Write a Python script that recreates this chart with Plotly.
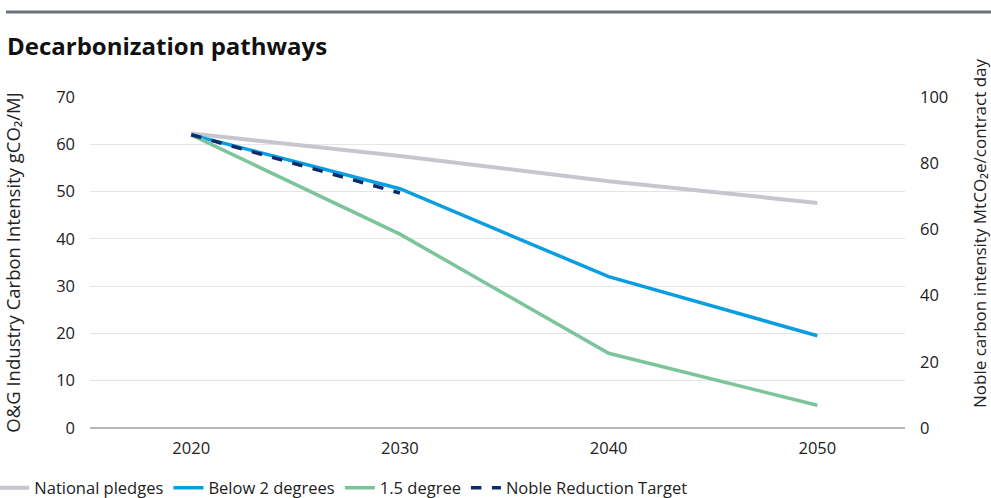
import plotly.graph_objects as go

years = [2020, 2030, 2040, 2050]
national_pledges = [62.3, 57.5, 52.2, 47.6]
below_2_degrees = [62.0, 50.6, 32.0, 19.5]
one_point_five = [62.0, 41.0, 15.8, 4.8]
noble_years = [2020, 2030]
noble_target = [88.6, 71.0]  # right axis

FONT = "Open Sans"
FS = 16.5
fig = go.Figure()
fig.add_trace(go.Scatter(x=years, y=national_pledges, name="National pledges", mode="lines",
                         line=dict(color="#c5c7cd", width=4)))
fig.add_trace(go.Scatter(x=years, y=below_2_degrees, name="Below 2 degrees", mode="lines",
                         line=dict(color="#0a9ee0", width=3.5)))
fig.add_trace(go.Scatter(x=years, y=one_point_five, name="1.5 degree", mode="lines",
                         line=dict(color="#7cc49b", width=3.5)))
fig.add_trace(go.Scatter(x=noble_years, y=noble_target, name="Noble Reduction Target", mode="lines",
                         yaxis="y2", line=dict(color="#0b2d6b", width=3.5, dash="dash")))

L, R, T, B = 90, 86, 97, 70
W, H = 991, 498
pw, ph = W - L - R, H - T - B

fig.update_layout(
    width=W, height=H,
    margin=dict(l=L, r=R, t=T, b=B, autoexpand=False),
    paper_bgcolor="white", plot_bgcolor="white",
    font=dict(family=FONT, size=FS, color="#222"),
    showlegend=True,
    legend=dict(orientation="h", x=-L / pw - 0.007, xanchor="left", y=-(488 - (H - B)) / ph, yanchor="middle",
                font=dict(size=FS, color="#222"), tracegroupgap=0),
    xaxis=dict(range=[2015.15, 2054.2], tickvals=years, showgrid=False, zeroline=False,
               showline=False, ticks="", tickfont=dict(size=FS, color="#222"), automargin=False,
               ticklabelstandoff=8),
    yaxis=dict(range=[0, 70], dtick=10, showgrid=True, gridcolor="#e5e5e5", gridwidth=1,
               zeroline=True, zerolinecolor="#b5b7bb", zerolinewidth=2, ticks="",
               ticklabelstandoff=14, automargin=False,
               title=dict(text="O&G Industry Carbon Intensity gCO₂/MJ", font=dict(size=18.5, color="#222"),
                          standoff=30),
               tickfont=dict(size=FS, color="#222")),
    yaxis2=dict(range=[0, 100], dtick=20, overlaying="y", side="right", showgrid=False,
                zeroline=False, ticks="", ticklabelstandoff=14, automargin=False,
                tickfont=dict(size=FS, color="#222")),
    title=dict(text="<b>Decarbonization pathways</b>", xref="container", yref="container",
               x=7 / W, xanchor="left", y=1 - 47 / H, yanchor="middle",
               font=dict(family=FONT, size=24, color="#111")),
    annotations=[dict(text="Noble carbon intensity MtCO₂e/contract day", textangle=-90,
                      xref="paper", yref="paper", x=(979 - L) / pw, y=(H - B - 233) / ph,
                      xanchor="center", yanchor="middle", showarrow=False, borderpad=0,
                      font=dict(size=17, color="#222"))],
    shapes=[dict(type="line", xref="paper", yref="paper",
                 x0=(6 - L) / pw, x1=(W - L) / pw,
                 y0=(H - B - 12) / ph, y1=(H - B - 12) / ph,
                 line=dict(color="#6b7178", width=3))],
)

fig.write_html("out.html", config={"displayModeBar": False},
               post_script="document.body.style.margin='0';document.body.style.overflow='hidden';")
